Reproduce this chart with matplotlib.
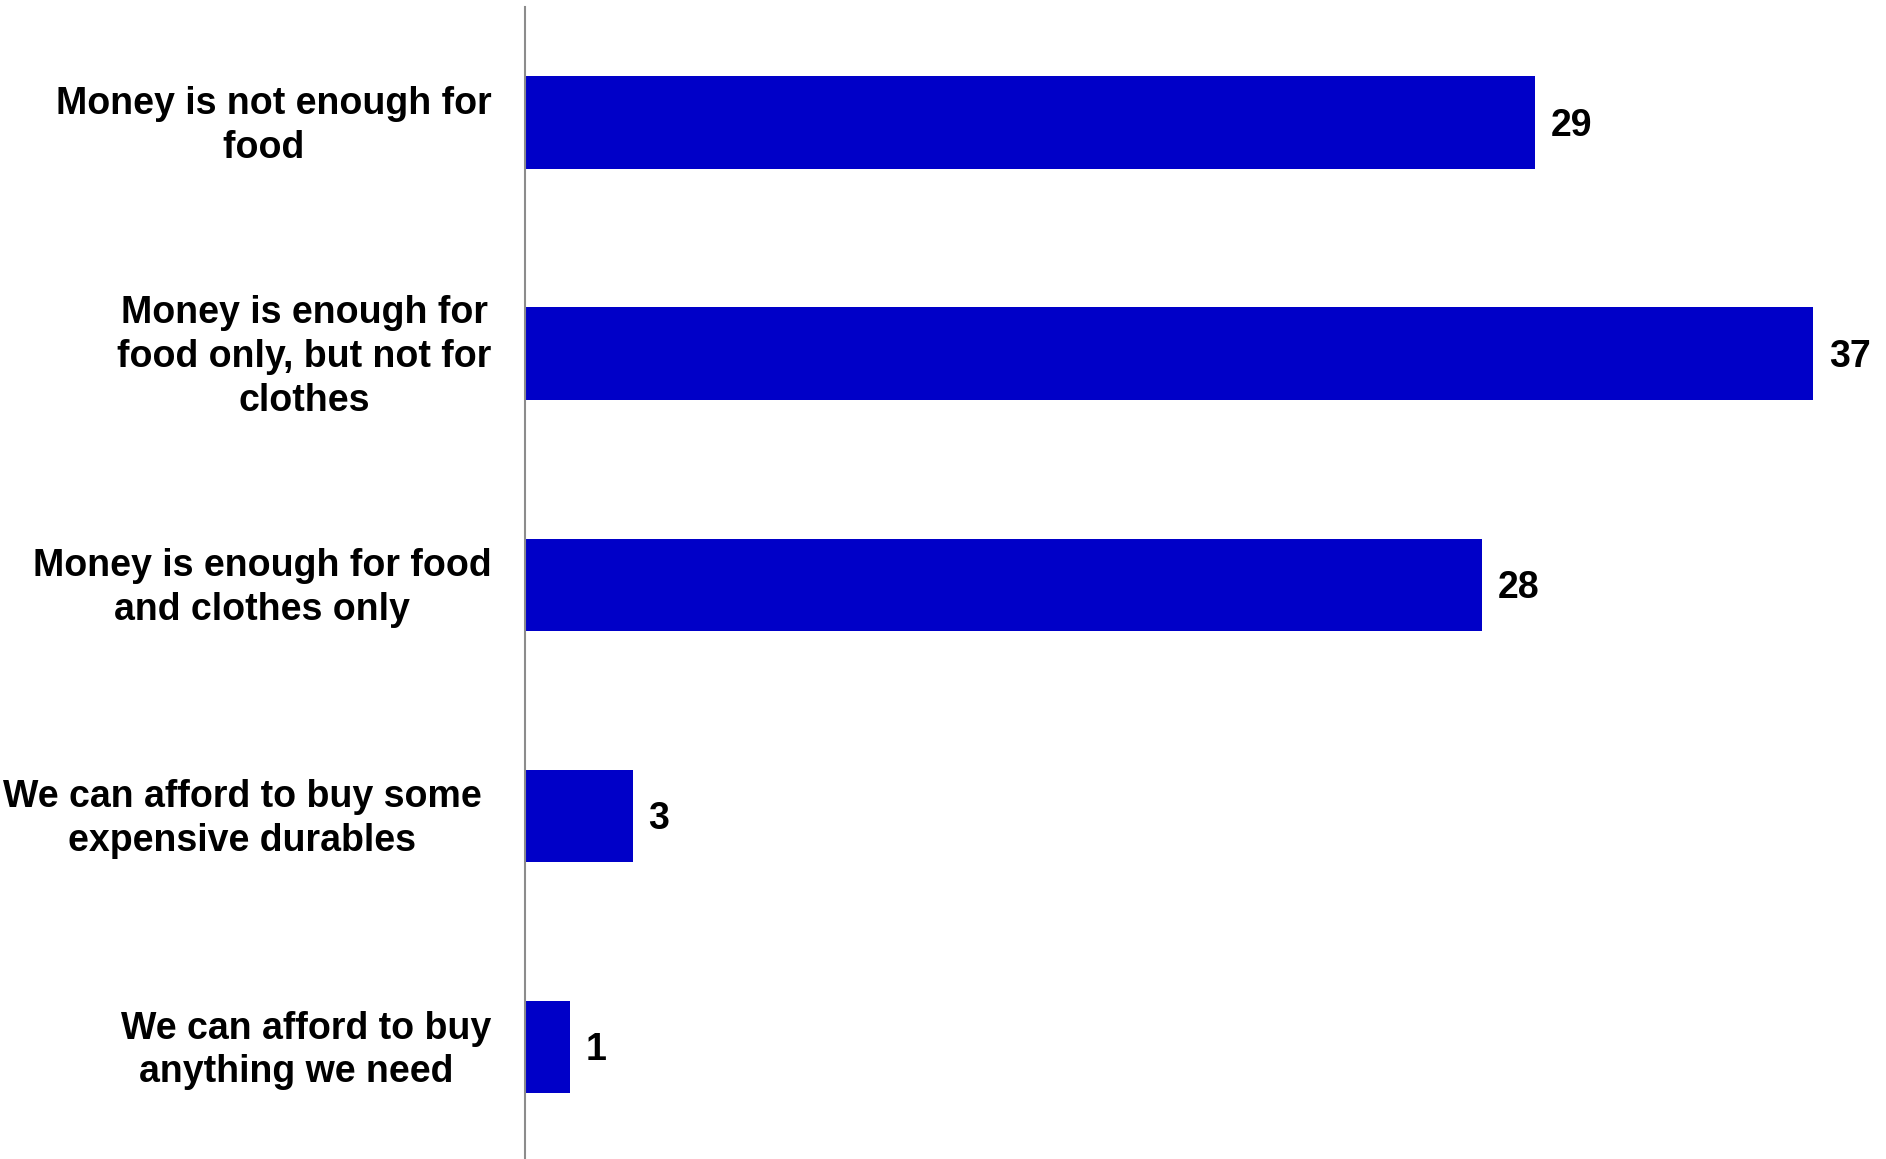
import matplotlib.pyplot as plt
from matplotlib.transforms import ScaledTranslation

categories = [
    "Money is not enough for\nfood  ",
    "Money is enough for\nfood only, but not for\nclothes",
    "Money is enough for food\nand clothes only",
    "We can afford to buy some \nexpensive durables ",
    "We can afford to buy\nanything we need  ",
]
values = [29.0, 37.0, 27.5, 3.1, 1.3]
labels = ["29", "37", "28", "3", "1"]

plt.rcParams['font.family'] = ['Liberation Sans', 'DejaVu Sans']

fig = plt.figure(figsize=(18.86, 11.59), dpi=100)
ax = fig.add_axes([525 / 1886, -3.6 / 1159, 1 - 525 / 1886, 1155.6 / 1159])

pos = list(range(len(categories)))
ax.barh(pos, values, height=0.4, color='#0000C8')
ax.set_ylim(len(categories) - 0.5, -0.5)
ax.set_xlim(0, 39.09)

for p, v, t in zip(pos, values, labels):
    ax.text(v + 0.45, p + 0.058, t, va='baseline', ha='left', fontsize=27, fontweight='bold')

ax.set_yticks(pos)
ax.set_yticklabels(categories, fontsize=27, fontweight='bold', multialignment='center', linespacing=1.28)
ax.tick_params(axis='y', length=0, pad=24)
ax.set_xticks([])

# nudge category labels up a little
shift = ScaledTranslation(0, 0.045, fig.dpi_scale_trans)
for lab in ax.get_yticklabels():
    lab.set_transform(lab.get_transform() + shift)

for s in ['top', 'right', 'bottom']:
    ax.spines[s].set_visible(False)
ax.spines['left'].set_color('#8c8c8c')
ax.spines['left'].set_linewidth(1.5)

fig.savefig('out.png', dpi=100)
